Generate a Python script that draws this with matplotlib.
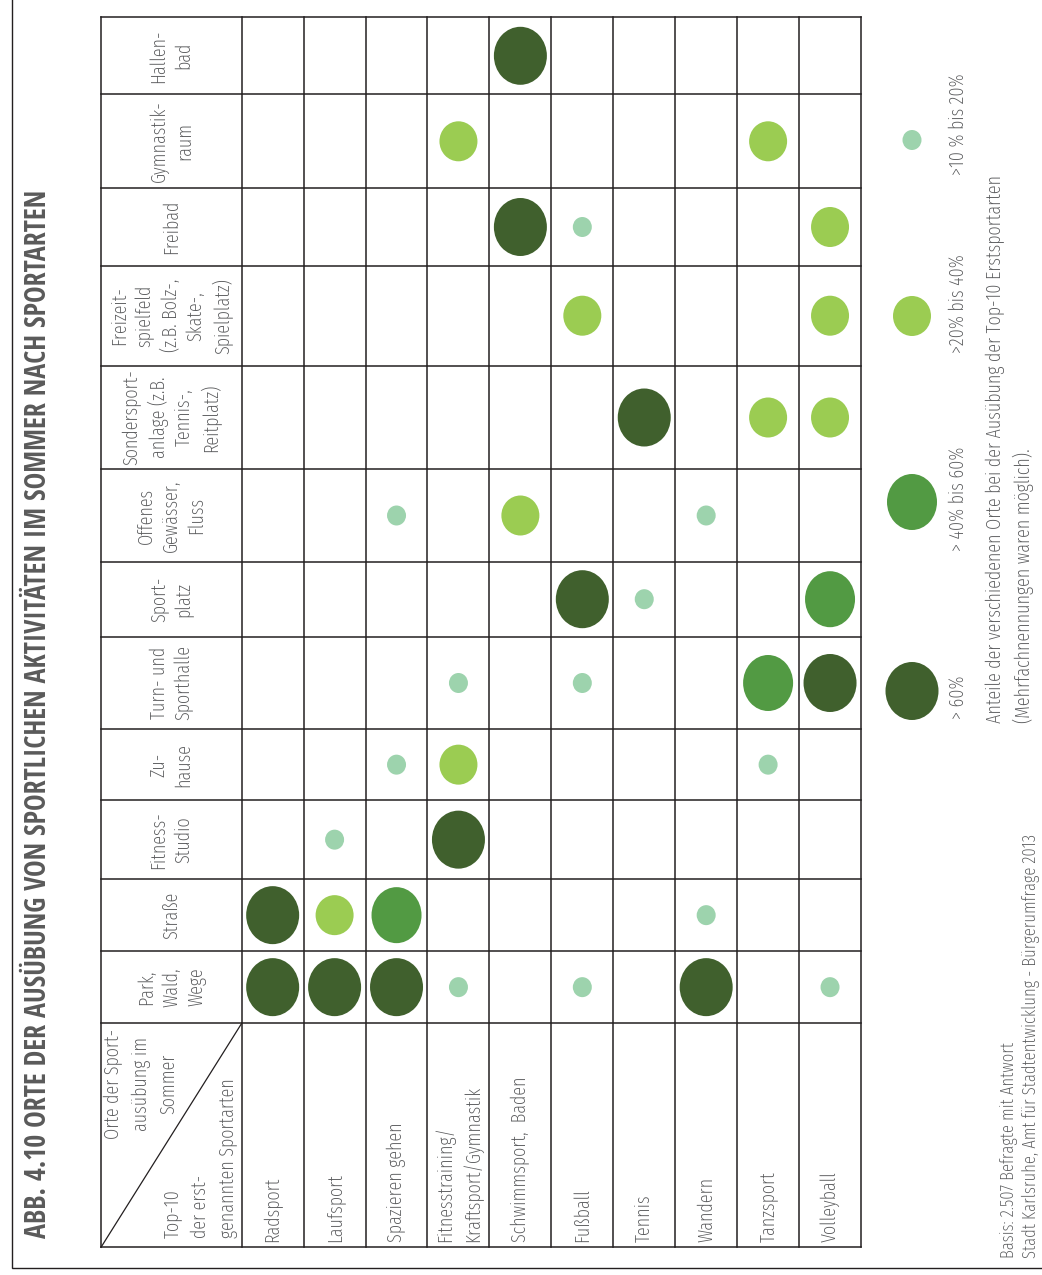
import matplotlib
matplotlib.use("Agg")
import matplotlib.pyplot as plt
from matplotlib.patches import Ellipse
from matplotlib import font_manager as fm

# ---------------- data ----------------
sports = ["Radsport", "Laufsport", "Spazieren gehen",
          "Fitnesstraining/\nKraftsport/Gymnastik", "Schwimmsport,  Baden",
          "Fußball", "Tennis", "Wandern", "Tanzsport", "Volleyball"]
places = ["Park,\nWald,\nWege", "Straße", "Fitness-\nStudio", "Zu-\nhause",
          "Turn- und\nSporthalle", "Sport-\nplatz", "Offenes\nGewässer,\nFluss",
          "Sondersport-\nanlage (z.B.\nTennis-,\nReitplatz)",
          "Freizeit-\nspielfeld\n(z.B. Bolz-,\nSkate-,\nSpielplatz)",
          "Freibad", "Gymnastik-\nraum", "Hallen-\nbad"]
class_labels = ["> 60%", "> 40% bis 60%", ">20% bis 40%", ">10 % bis 20%"]
# share class per sport (rows) and place (columns): 0 none, 1 >60%, 2 >40-60%, 3 >20-40%, 4 >10-20%
share_class = [
    [1, 1, 0, 0, 0, 0, 0, 0, 0, 0, 0, 0],  # Radsport
    [1, 3, 4, 0, 0, 0, 0, 0, 0, 0, 0, 0],  # Laufsport
    [1, 2, 0, 4, 0, 0, 4, 0, 0, 0, 0, 0],  # Spazieren gehen
    [4, 0, 1, 3, 4, 0, 0, 0, 0, 0, 3, 0],  # Fitnesstraining
    [0, 0, 0, 0, 0, 0, 3, 0, 0, 1, 0, 1],  # Schwimmsport
    [4, 0, 0, 0, 4, 1, 0, 0, 3, 4, 0, 0],  # Fußball
    [0, 0, 0, 0, 0, 4, 0, 1, 0, 0, 0, 0],  # Tennis
    [1, 4, 0, 0, 0, 0, 4, 0, 0, 0, 0, 0],  # Wandern
    [0, 0, 0, 4, 2, 0, 0, 3, 0, 0, 3, 0],  # Tanzsport
    [4, 0, 0, 0, 1, 2, 0, 3, 3, 3, 0, 0],  # Volleyball
]
title = "ABB. 4.10 ORTE DER AUSÜBUNG VON SPORTLICHEN AKTIVITÄTEN IM SOMMER NACH SPORTARTEN"
corner_top = "Orte der Sport-\nausübung im\nSommer"
corner_bottom = "Top-10\nder erst-\ngenannten Sportarten"
note = ("Anteile der verschiedenen Orte bei der Ausübung der Top-10 Erstsportarten\n"
        "(Mehrfachnennungen waren möglich).")
source = ("Basis: 2.507 Befragte mit Antwort\n"
          "Stadt Karlsruhe, Amt für Stadtentwicklung - Bürgerumfrage 2013")

# ---------------- styles / layout ----------------
class_colors = ["#40602d", "#529a43", "#9bcc52", "#9dd3ad"]
class_sizes = [(53, 58), (50, 56), (38, 40), (19, 20)]   # (x-size, y-size) in px
TEXT = "#58595b"
LINE = "#231f20"
W, H = 1042, 1275

table_left = 101
header_right = 241.7
row_w = (861 - header_right) / len(sports)
# horizontal rules, from the bottom of the table upward (first cell = corner header)
col_edges = [1247.3, 1023.3, 951, 879.3, 800, 729.3, 636.7, 561.7,
             469.3, 365.7, 265.7, 188.3, 94.3, 17.3]
legend_x = 912
legend_y = [691, 502, 316, 140]
legend_label_y = [697, 499, 304, 124]


def wnum(w):
    if isinstance(w, str):
        return fm.weight_dict.get(w, 400)
    return w


def pick(cands):
    for fam, wmin, wmax, st in cands:
        for f in fm.fontManager.ttflist:
            if f.name == fam and wmin <= wnum(f.weight) <= wmax and \
                    (st is None or st in str(f.stretch)) and \
                    'Italic' not in f.fname and 'italic' not in f.style:
                return fm.FontProperties(fname=f.fname)
    return fm.FontProperties(family="DejaVu Sans")


bold_fp = pick([
    ("Open Sans Condensed", 600, 900, None),
    ("Roboto Condensed", 600, 900, None),
    ("Liberation Sans Narrow", 600, 900, None),
    ("Open Sans", 600, 800, None),
])
light_fp = pick([
    ("Fira Sans Extra Condensed", 250, 350, None),
    ("Fira Sans Condensed", 250, 350, None),
    ("Open Sans Condensed", 200, 350, None),
    ("Roboto Condensed", 200, 350, None),
    ("Open Sans", 200, 350, None),
    ("Open Sans", 300, 500, None),
])

fig = plt.figure(figsize=(W / 100, H / 100), dpi=100)
ax = fig.add_axes([0, 0, 1, 1])
ax.set_xlim(0, W)
ax.set_ylim(H, 0)
ax.axis("off")
renderer = fig.canvas.get_renderer()


def fit(text, fp, target):
    t = ax.text(0, 0, text, fontproperties=fp, fontsize=20, rotation=90)
    h = t.get_window_extent(renderer).height
    t.remove()
    return 20 * target / h


def txt(x, y, s, fp, size, color=TEXT, ha="center", va="center", ma="center", ls=1.15):
    p = fp.copy()
    p.set_size(size)
    ax.text(x, y, s, fontproperties=p, color=color, rotation=90, ha=ha, va=va,
            multialignment=ma, linespacing=ls)


title_size = fit(title, bold_fp, 1050)
body_size = fit("Spazieren gehen", light_fp, 120)
src_size = fit("Stadt Karlsruhe, Amt für Stadtentwicklung - Bürgerumfrage 2013", light_fp, 423)

# page frame
ax.plot([12, 12, W], [0, 1268, 1268], color=LINE, lw=1.0, solid_joinstyle="miter")

# table grid
x_edges = [table_left, header_right] + [header_right + row_w * (i + 1) for i in range(len(sports))]
for x in x_edges:
    ax.plot([x, x], [col_edges[0], col_edges[-1]], color=LINE, lw=1.1)
for y in col_edges:
    ax.plot([table_left, x_edges[-1]], [y, y], color=LINE, lw=1.1)
ax.plot([table_left, header_right], [col_edges[0], col_edges[1]], color=LINE, lw=0.9)


def place_center(j):
    return (col_edges[j + 1] + col_edges[j + 2]) / 2


# header texts
hx = (table_left + header_right) / 2
for j, p in enumerate(places):
    txt(hx, place_center(j), p, light_fp, body_size, ls=1.36)
txt(141, 1084, corner_top, light_fp, body_size, ls=1.5)
for k, line in enumerate(corner_bottom.split("\n")):
    txt(172 + 28 * k, 1238, line, light_fp, body_size, va="bottom")

# sport labels and circles
for i, s in enumerate(sports):
    xc = header_right + row_w * (i + 0.5)
    txt(xc, 1242, s, light_fp, body_size, va="bottom", ma="left", ls=1.45)
    for j, c in enumerate(share_class[i]):
        if c:
            w, h = class_sizes[c - 1]
            ax.add_patch(Ellipse((xc, place_center(j)), w, h, color=class_colors[c - 1], lw=0))

# legend
for k, lab in enumerate(class_labels):
    w, h = class_sizes[k]
    ax.add_patch(Ellipse((legend_x, legend_y[k]), w, h, color=class_colors[k], lw=0))
    txt(958, legend_label_y[k], lab, light_fp, body_size)

txt(1010, 723, note, light_fp, body_size, va="bottom", ma="left", ls=1.45)
txt(1020, 1258, source, light_fp, src_size, va="bottom", ma="left", ls=1.3)

# title
txt(39, 1238, title, bold_fp, title_size, color="#5a5a5a", va="bottom", ma="left")

fig.savefig("out.png", dpi=100)
